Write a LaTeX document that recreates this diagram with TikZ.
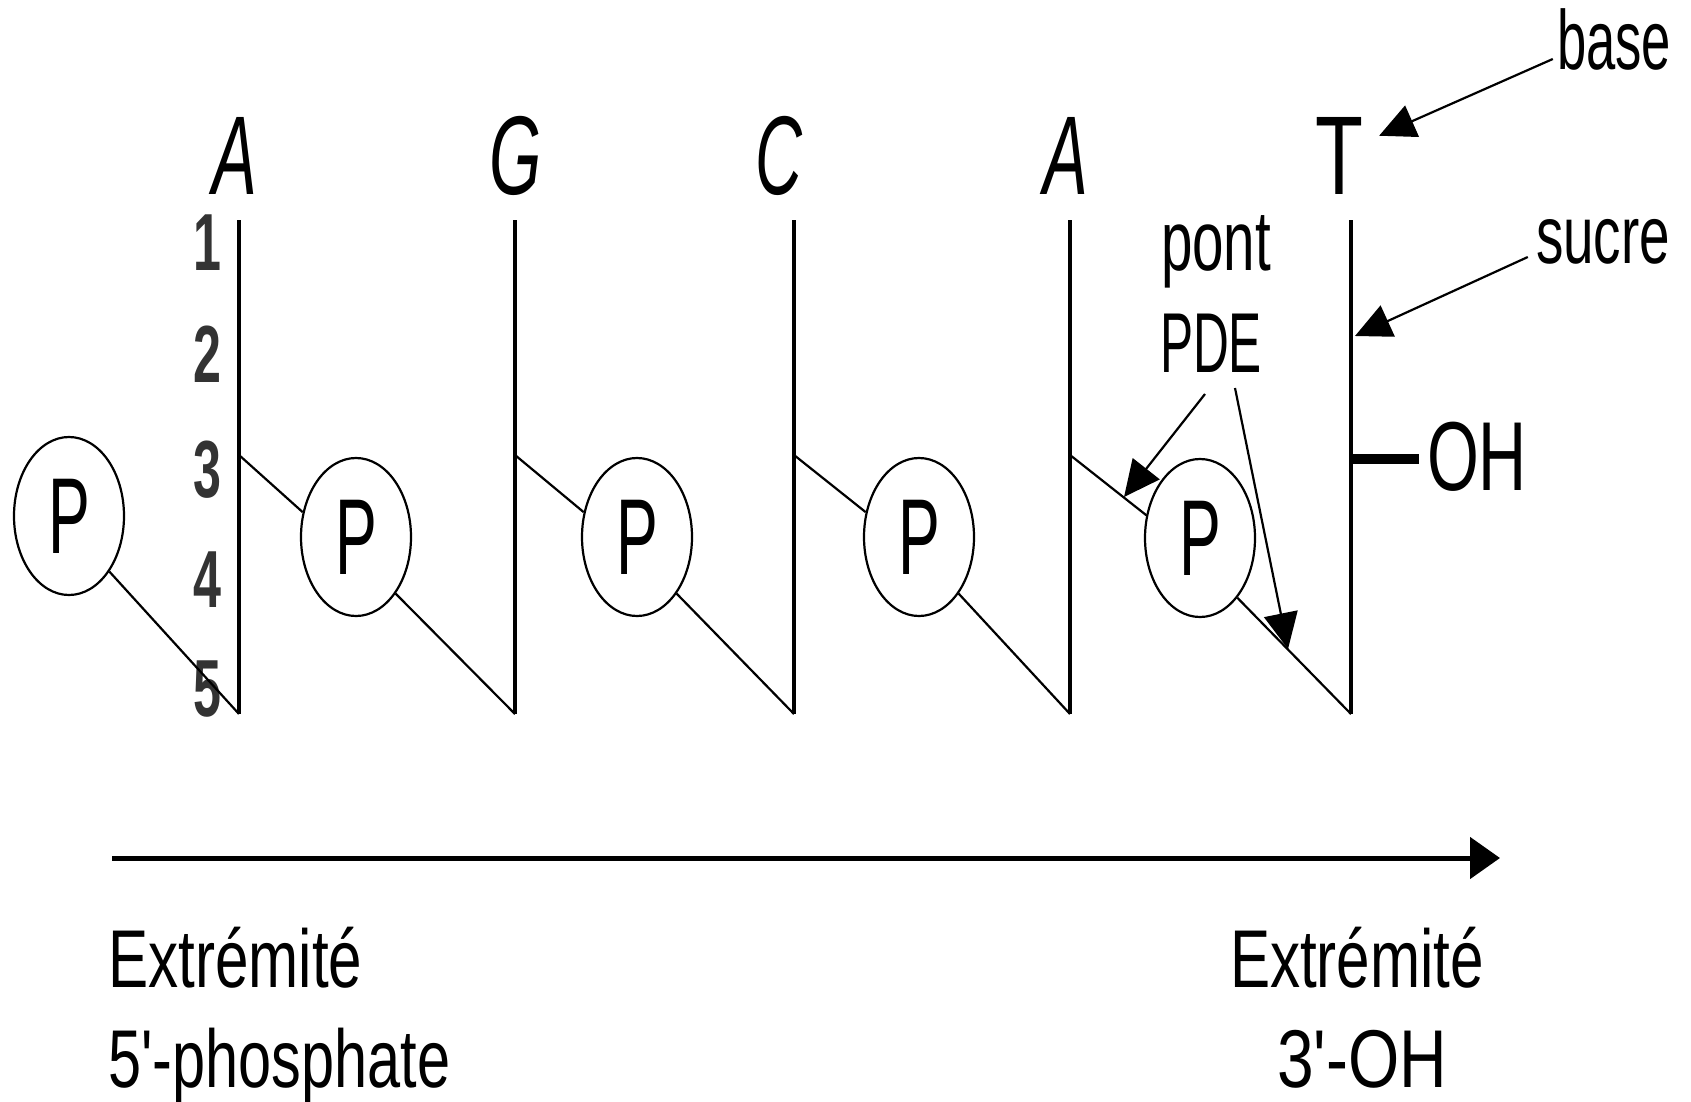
\documentclass[tikz,border=0pt]{standalone}
\usepackage{fontspec}
\setmainfont{Liberation Sans}
\usetikzlibrary{arrows.meta,shapes.geometric,calc}
% narrow lettering: fixed width keeping the natural height, or a horizontal factor
\newcommand\wfit[2]{\resizebox{#1}{\height}{#2}}
\newcommand\nar[2]{\scalebox{#1}[1]{#2}}

\begin{document}
\begin{tikzpicture}[x=1pt,y=-1pt,
  sugar/.style={line width=4.6pt},
  bond/.style={line width=2.2pt},
  phos/.style={ellipse,draw,line width=2.2pt,minimum width=110pt,minimum height=158pt,
    inner sep=0pt,font=\fontsize{108}{108}\selectfont},
  nucl/.style={anchor=base,inner sep=0pt,font=\fontsize{112}{112}\selectfont\itshape},
  num/.style={anchor=base,inner sep=0pt,text=black!80,font=\fontsize{81}{81}\selectfont\bfseries},
  lbl/.style={anchor=base,inner sep=0pt,font=\fontsize{84}{84}\selectfont},
  endlbl/.style={inner sep=0pt,font=\fontsize{82}{82}\selectfont},
  pointer/.style={line width=2.2pt,-{Triangle[length=36pt,width=34pt]}},
]
\useasboundingbox (0,0) rectangle (1691,1102);

% bases
\node[nucl] (bA1) at (235,195) {\nar{0.6}{A}};
\node[nucl] (bG)  at (516,195) {\nar{0.6}{G}};
\node[nucl] (bC)  at (779,195) {\nar{0.58}{C}};
\node[nucl] (bA2) at (1066,195) {\nar{0.6}{A}};
\node[nucl,font=\fontsize{112}{112}\selectfont\upshape] (bT) at (1339,195) {\nar{0.7}{T}};

% carbon numbering of the first sugar
\node[num] (n1) at (207,270) {\nar{0.62}{1}};
\node[num] (n2) at (207,382) {\nar{0.62}{2}};
\node[num] (n3) at (207,497) {\nar{0.62}{3}};
\node[num] (n4) at (207,607) {\nar{0.62}{4}};
\node[num] (n5) at (207,716) {\nar{0.62}{5}};

% sugars: top, C3' and bottom (C5') points
\foreach \i/\x in {1/239,2/515,3/794,4/1070,5/1351}{
  \coordinate (s\i t) at (\x,220);
  \coordinate (s\i m) at (\x,455);
  \coordinate (s\i b) at (\x,714);
  \draw[sugar] (s\i t) -- (s\i b);
}

% phosphates
\node[phos] (p0) at (69,516)  {\nar{0.58}{P}};
\node[phos] (p1) at (356,537) {\nar{0.58}{P}};
\node[phos] (p2) at (637,537) {\nar{0.58}{P}};
\node[phos] (p3) at (919,537) {\nar{0.58}{P}};
\node[phos] (p4) at (1200,538) {\nar{0.58}{P}};

% phosphodiester bonds
\draw[bond] (p0.-54) -- (s1b);
\draw[bond] (s1m) -- (p1.155);
\draw[bond] (p1.-55) -- (s2b);
\draw[bond] (s2m) -- (p2.155);
\draw[bond] (p2.-55) -- (s3b);
\draw[bond] (s3m) -- (p3.155);
\draw[bond] (p3.-55) -- (s4b);
\draw[bond] (s4m) -- (p4.157);
\draw[bond] (p4.-58) -- (s5b);

% free 3'-OH
\node[lbl,font=\fontsize{98}{98}\selectfont] (oh) at (1477,490) {\wfit{100pt}{OH}};
\coordinate (s5oh) at (1351,459);
\draw[line width=10pt,shorten >=8pt] (s5oh) -- (oh.west |- s5oh);

% annotations
\node[lbl] (lbase) at (1614,70) {\wfit{114pt}{base}};
\node[lbl,font=\fontsize{82}{82}\selectfont] (lsucre) at (1603,263) {\wfit{134pt}{sucre}};
\node[lbl,font=\fontsize{85}{85}\selectfont] (lpont) at (1216,270) {\wfit{110pt}{pont}};
\node[lbl,font=\fontsize{85}{85}\selectfont] (lpde) at (1211,372) {\wfit{102pt}{PDE}};

\coordinate (sugtip) at (1355,336);
\coordinate (pde1tip) at (1124,497);
\coordinate (pde2tip) at (1288,649);

\draw[pointer] ($(lbase.base west)+(-4,-11)$) -- ($(bT.north east)+(16,18)$);
\draw[pointer] ($(lsucre.base west)+(-8,-6)$) -- (sugtip);
\draw[pointer] ($(lpde.base)+(-6,22)$) -- (pde1tip);
\draw[pointer] ($(lpde.base)+(24,16)$) -- (pde2tip);

% direction of the strand
\coordinate (dirL) at (112,858);
\coordinate (dirR) at (1500,858);
\draw[line width=5pt,-{Triangle[length=30pt,width=41pt]}] (dirL) -- (dirR);

% ends of the strand
\node[endlbl,anchor=base west] (e5a) at (108,987) {\wfit{254pt}{Extrémité}};
\node[endlbl,anchor=base west] (e5b) at (108,1087) {\wfit{342pt}{5\textquotesingle-phosphate}};
\node[endlbl,anchor=base] (e3a) at (1357,987) {\wfit{254pt}{Extrémité}};
\node[endlbl,anchor=base] (e3b) at (1362,1087) {\wfit{170pt}{3\textquotesingle-OH}};
\end{tikzpicture}
\end{document}
